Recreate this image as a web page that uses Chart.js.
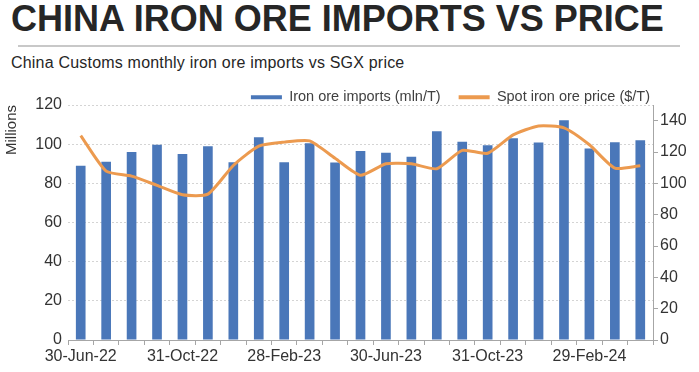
<!DOCTYPE html>
<html><head><meta charset="utf-8">
<script src="https://cdn.jsdelivr.net/npm/chart.js@4"></script>
<style>
html,body{margin:0;padding:0;background:#fff;}
body{width:699px;height:372px;position:relative;overflow:hidden;font-family:"Liberation Sans",Arial,sans-serif;}
#title{position:absolute;left:11px;top:-1px;font-weight:bold;font-size:36px;color:#262626;line-height:40px;white-space:nowrap;}
#rule{position:absolute;left:18px;top:45px;width:662px;height:2px;background:#c8c8c8;}
#sub{position:absolute;left:11px;top:54px;font-size:16px;letter-spacing:0.2px;color:#262626;line-height:18px;white-space:nowrap;}
#wrap{position:absolute;left:0;top:72px;width:699px;height:300px;}
</style></head>
<body>
<div id="title">CHINA IRON ORE IMPORTS VS PRICE</div>
<div id="rule"></div>
<div id="sub">China Customs monthly iron ore imports vs SGX price</div>
<div id="wrap"><canvas id="c" width="699" height="300"></canvas></div>
<script>
const categories = ['30-Jun-22','31-Jul-22','31-Aug-22','30-Sep-22','31-Oct-22','30-Nov-22','31-Dec-22',
  '31-Jan-23','28-Feb-23','31-Mar-23','30-Apr-23','31-May-23','30-Jun-23','31-Jul-23','31-Aug-23',
  '30-Sep-23','31-Oct-23','30-Nov-23','31-Dec-23','31-Jan-24','29-Feb-24','31-Mar-24','30-Apr-24'];
const importsMln = [89, 91, 96, 99.7, 95, 99, 90.8, 103.5, 90.8, 100.5, 90.6, 96.5, 95.6, 93.6, 106.6,
  101.2, 99.5, 103, 100.9, 112.2, 97.8, 101, 102];
const priceUsd = [130.5, 107.8, 104.6, 98.7, 92.7, 93.1, 111.4, 123.7, 126.3, 127.1, 116, 105.2, 112.5,
  112.5, 109.3, 121, 119.2, 130.9, 136.6, 135.4, 124.6, 109.7, 111.2];
const xTickLabels = ['30-Jun-22','31-Oct-22','28-Feb-23','30-Jun-23','31-Oct-23','29-Feb-24'];
const leftTicks = [0, 20, 40, 60, 80, 100, 120];
const rightTicks = [0, 20, 40, 60, 80, 100, 120, 140];

const FAM = '"Liberation Sans", Arial, sans-serif';
const TXT = '#333333';
const AXIS = '#a6a6a6';

const legendBox = {
  id: 'legendBox',
  beforeInit(chart) {
    if (!chart.legend) return;
    const fit = chart.legend.fit;
    chart.legend.fit = function () { fit.call(this); this.height = 33; };
  },
  afterLayout(chart) {
    const lg = chart.legend;
    if (!lg) return;
    lg.right = 668;
    lg.width = lg.right - lg.left;
  }
};

new Chart(document.getElementById('c'), {
  type: 'bar',
  data: {
    labels: categories,
    datasets: [
      { type: 'bar', label: 'Iron ore imports (mln/T)', data: importsMln, yAxisID: 'y',
        backgroundColor: '#4a77b9', borderWidth: 0, barPercentage: 0.38, categoryPercentage: 1, order: 2 },
      { type: 'line', label: 'Spot iron ore price ($/T)', data: priceUsd, yAxisID: 'y1',
        borderColor: '#ec9a4f', backgroundColor: '#ec9a4f', borderWidth: 3, pointRadius: 0,
        tension: 0.2, fill: false, order: 1 }
    ]
  },
  options: {
    responsive: false,
    animation: false,
    layout: { padding: 0 },
    plugins: {
      tooltip: { enabled: false },
      legend: {
        position: 'top', align: 'end', fullSize: true,
        labels: {
          boxWidth: 31, boxHeight: 4, padding: 18, color: '#404040',
          font: { size: 14.5, family: FAM },
          sort: (a, b) => a.datasetIndex - b.datasetIndex,
          generateLabels(chart) {
            const items = Chart.defaults.plugins.legend.labels.generateLabels(chart);
            items.forEach(it => { it.lineWidth = 0; });
            return items;
          }
        }
      }
    },
    scales: {
      x: {
        offset: true,
        grid: { display: true, drawOnChartArea: false, offset: true, drawTicks: true, tickLength: 5, color: AXIS },
        border: { display: true, color: AXIS, width: 1 },
        ticks: {
          autoSkip: false, maxRotation: 0, minRotation: 0, padding: 2, color: TXT,
          font: { size: 16, family: FAM },
          callback(v, i) { const l = categories[i]; return xTickLabels.includes(l) ? l : ''; }
        },
        afterFit(s) { s.height = 32; }
      },
      y: {
        position: 'left', min: 0, max: 120,
        afterBuildTicks(s) { s.ticks = leftTicks.map(v => ({ value: v })); },
        grid: { drawTicks: false, lineWidth: 1,
          color: ctx => (ctx.tick && ctx.tick.value === 0) ? 'rgba(0,0,0,0)' : '#d4d4d4' },
        border: { display: false, dash: [2, 2] },
        ticks: { padding: 6, color: TXT, font: { size: 16, family: FAM } },
        title: { display: true, text: 'Millions', align: 'end', color: TXT,
          font: { size: 15, family: FAM }, padding: { top: 3, bottom: 0 } },
        afterFit(s) { s.width = 68; }
      },
      y1: {
        position: 'right', min: 0, max: 150,
        afterBuildTicks(s) { s.ticks = rightTicks.map(v => ({ value: v })); },
        grid: { drawOnChartArea: false, drawTicks: true, tickLength: 5, color: AXIS },
        border: { display: true, color: AXIS, width: 1 },
        ticks: { padding: 2, color: TXT, font: { size: 16, family: FAM } },
        afterFit(s) { s.width = 46; }
      }
    }
  },
  plugins: [legendBox]
});
</script>
</body></html>
